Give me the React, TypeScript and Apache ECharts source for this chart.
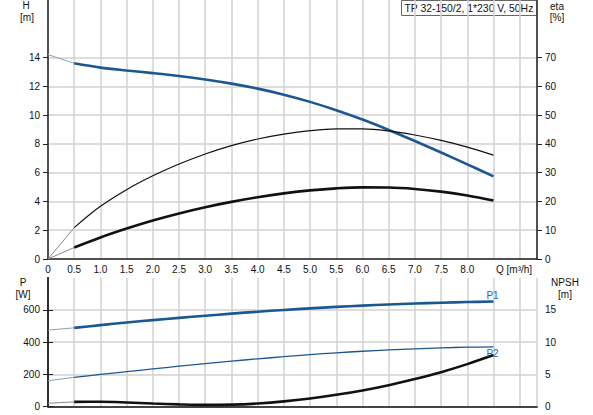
import { useEffect, useRef } from 'react';
import * as echarts from 'echarts';

// flow rate Q [m³/h]
const flow = [0, 0.5, 1.0, 1.5, 2.0, 2.5, 3.0, 3.5, 4.0, 4.5, 5.0, 5.5, 6.0, 6.5, 7.0, 7.5, 8.0, 8.5];
// head H [m]
const head = [14.2, 13.6, 13.3, 13.1, 12.92, 12.72, 12.48, 12.19, 11.84, 11.42, 10.92, 10.34, 9.69, 8.97, 8.2, 7.4, 6.58, 5.74];
// efficiency eta [%]
const etaPump = [0, 10.9, 18.3, 24.1, 28.9, 33.0, 36.5, 39.4, 41.7, 43.4, 44.6, 45.2, 45.2, 44.5, 43.1, 41.2, 38.9, 36.1];
const etaTotal = [0, 4.0, 7.5, 10.6, 13.4, 15.85, 18.0, 19.85, 21.45, 22.8, 23.85, 24.55, 24.9, 24.85, 24.35, 23.4, 22.05, 20.3];
// power P [W]
const powerP1 = [475, 489, 506, 522, 537, 551, 564, 577, 589, 600, 610, 619, 627, 634, 640, 645, 649, 652];
const powerP2 = [161, 182, 200, 217, 234, 251, 267, 282, 297, 310, 323, 334, 344, 352, 359, 365, 369, 371];
// NPSH [m]
const npsh = [0.53, 0.75, 0.76, 0.66, 0.5, 0.36, 0.28, 0.32, 0.5, 0.82, 1.27, 1.84, 2.52, 3.34, 4.28, 5.35, 6.6, 8.0];

const xLabels = [0, 0.5, 1.0, 1.5, 2.0, 2.5, 3.0, 3.5, 4.0, 4.5, 5.0, 5.5, 6.0, 6.5, 7.0, 7.5, 8.0];
const hLabels = [0, 2, 4, 6, 8, 10, 12, 14];
const etaLabels = [0, 10, 20, 30, 40, 50, 60, 70];
const pLabels = [0, 200, 400, 600];
const npshLabels = [0, 5, 10, 15];

const BLUE = '#1b5793';
const FONT = 'Liberation Sans, Arial, sans-serif';
const X_MAX = 9.33;

const pairs = (ys: number[]) => flow.map((q, i) => [q, ys[i]]);
const startPart = (ys: number[]) => pairs(ys).slice(0, 2);
const mainPart = (ys: number[]) => pairs(ys).slice(1);

const App = () => {
  const chartRef = useRef<HTMLDivElement>(null);

  useEffect(() => {
    const chart = echarts.init(chartRef.current, null, { renderer: 'svg' });

    const axisText = { color: '#111', fontSize: 10, fontFamily: FONT };
    const darkLine = { show: true, lineStyle: { color: '#222', width: 1.5 } };
    const grayGrid = { show: true, lineStyle: { color: '#d2d2d2', width: 1.5 } };

    const lineSeries = (
      name: string,
      data: number[][],
      xAxisIndex: number,
      yAxisIndex: number,
      color: string,
      width: number,
      extra: object = {}
    ) => ({
      name,
      type: 'line',
      xAxisIndex,
      yAxisIndex,
      data,
      smooth: 0.35,
      showSymbol: false,
      symbol: 'none',
      lineStyle: { color, width },
      z: 5,
      ...extra,
    });

    const endLabel = (text: string, verticalAlign: string, dy: number) => ({
      endLabel: {
        show: true,
        formatter: text,
        distance: 0,
        align: 'center',
        verticalAlign,
        offset: [-1, dy],
        color: '#2a64a4',
        fontSize: 10,
        fontFamily: FONT,
      },
    });

    const text = (x: number, y: number, t: string, align = 'center') => ({
      type: 'text',
      x,
      y,
      style: { text: t, fill: '#111', font: `10px ${FONT}`, align, verticalAlign: 'middle' },
    });

    chart.setOption({
      animation: false,
      backgroundColor: '#fff',
      textStyle: { fontFamily: FONT },
      grid: [
        { left: 48, right: 56, top: -2, height: 261 },
        { left: 48, right: 56, top: 277.7, height: 129 },
      ],
      xAxis: [
        {
          type: 'value',
          gridIndex: 0,
          min: 0,
          max: X_MAX,
          interval: 0.5,
          axisLine: darkLine,
          axisTick: { show: false },
          axisLabel: {
            ...axisText,
            margin: 5,
            customValues: xLabels,
            formatter: (v: number) => (v === 0 ? '0' : v.toFixed(1)),
          },
          splitLine: grayGrid,
        },
        {
          type: 'value',
          gridIndex: 1,
          min: 0,
          max: X_MAX,
          interval: 0.5,
          axisLine: { show: true, lineStyle: { color: '#aaa', width: 2 } },
          axisTick: { show: false },
          axisLabel: { show: false },
          splitLine: grayGrid,
        },
        {
          type: 'value',
          gridIndex: 1,
          position: 'top',
          min: 0,
          max: X_MAX,
          axisLine: darkLine,
          axisTick: { show: false },
          axisLabel: { show: false },
          splitLine: { show: false },
        },
      ],
      yAxis: [
        {
          type: 'value',
          gridIndex: 0,
          min: 0,
          max: 18,
          interval: 2,
          axisLine: darkLine,
          axisTick: { show: true, length: 5, customValues: hLabels, lineStyle: { color: '#222' } },
          axisLabel: { ...axisText, margin: 8, customValues: hLabels },
          splitLine: grayGrid,
        },
        {
          type: 'value',
          gridIndex: 0,
          position: 'right',
          min: 0,
          max: 90,
          interval: 10,
          axisLine: darkLine,
          axisTick: { show: true, length: 5, customValues: etaLabels, lineStyle: { color: '#222' } },
          axisLabel: { ...axisText, margin: 8, customValues: etaLabels },
          splitLine: { show: false },
        },
        {
          type: 'value',
          gridIndex: 1,
          min: 0,
          max: 800,
          interval: 200,
          axisLine: darkLine,
          axisTick: { show: true, length: 5, customValues: pLabels, lineStyle: { color: '#222' } },
          axisLabel: { ...axisText, margin: 8, customValues: pLabels },
          splitLine: grayGrid,
        },
        {
          type: 'value',
          gridIndex: 1,
          position: 'right',
          min: 0,
          max: 20,
          interval: 5,
          axisLine: darkLine,
          axisTick: { show: true, length: 5, customValues: npshLabels, lineStyle: { color: '#222' } },
          axisLabel: { ...axisText, margin: 8, customValues: npshLabels },
          splitLine: { show: false },
        },
      ],
      series: [
        lineSeries('H start', startPart(head), 0, 0, '#8a9fb8', 1, { smooth: false }),
        lineSeries('H', mainPart(head), 0, 0, BLUE, 2.6),
        lineSeries('eta start', startPart(etaPump), 0, 1, '#888', 1, { smooth: false }),
        lineSeries('eta', mainPart(etaPump), 0, 1, '#111', 1.2),
        lineSeries('eta tot start', startPart(etaTotal), 0, 1, '#888', 1, { smooth: false }),
        lineSeries('eta tot', mainPart(etaTotal), 0, 1, '#111', 2.6),
        lineSeries('P1 start', startPart(powerP1), 1, 2, '#8a9fb8', 1, { smooth: false }),
        lineSeries('P1', mainPart(powerP1), 1, 2, BLUE, 2.6, endLabel('P1', 'bottom', -1)),
        lineSeries('P2 start', startPart(powerP2), 1, 2, '#8a9fb8', 1, { smooth: false }),
        lineSeries('P2', mainPart(powerP2), 1, 2, BLUE, 1.3, endLabel('P2', 'top', 2)),
        lineSeries('NPSH start', startPart(npsh), 1, 3, '#888', 1, { smooth: false }),
        lineSeries('NPSH', mainPart(npsh), 1, 3, '#111', 2.6),
      ],
      graphic: [
        {
          type: 'group',
          left: 401,
          top: 0,
          z: 20,
          children: [
            {
              type: 'rect',
              shape: { x: 0, y: 0, width: 135, height: 15 },
              style: { fill: '#fff', stroke: '#666', lineWidth: 1 },
            },
            {
              type: 'text',
              x: 3,
              y: 2.5,
              style: { text: 'TP 32-150/2, 1*230 V, 50Hz', fill: '#111', font: `10.4px ${FONT}` },
            },
          ],
        },
        text(26, 5, 'H'),
        text(27, 17, '[m]'),
        text(557, 6, 'eta'),
        text(557, 17, '[%]'),
        text(496, 269, 'Q [m³/h]', 'left'),
        text(23, 282, 'P'),
        text(23, 294, '[W]'),
        text(565, 282, 'NPSH'),
        text(565, 294, '[m]'),
      ],
    });

    return () => {
      chart.dispose();
    };
  }, []);

  return <div ref={chartRef} style={{ width: 593, height: 415, position: 'absolute', left: 0, top: 0 }} />;
};

export default App;
